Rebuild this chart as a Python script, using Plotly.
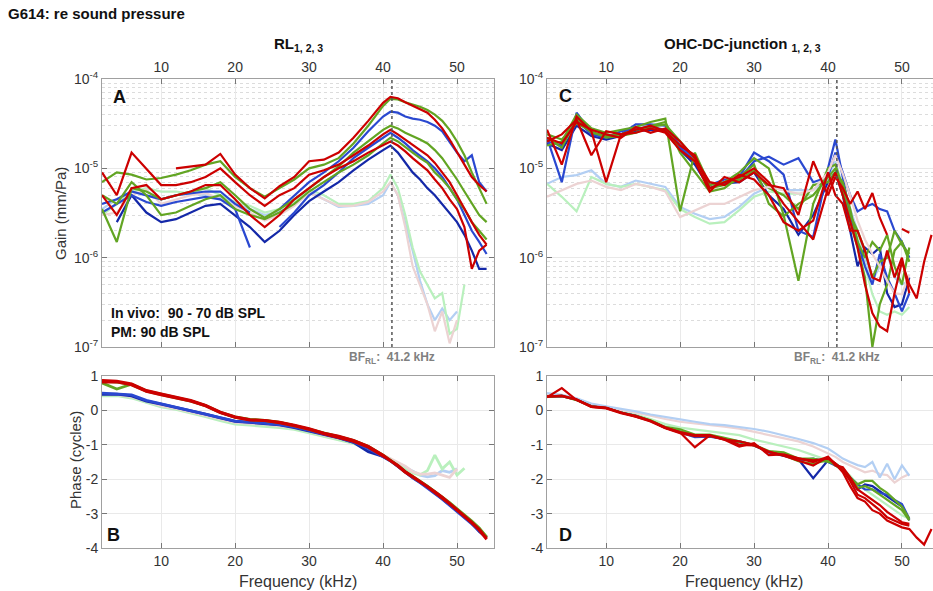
import plotly.graph_objects as go

# ---------------- data ----------------
FREQ_KHZ = [2, 4, 6, 8, 10, 12, 14, 16, 18, 20, 22, 24, 26, 28, 30, 32, 34, 36, 38, 40,
            41, 42, 43, 44, 45, 46, 47, 48, 49, 50, 51, 52, 53, 54]
X_TICKS = [10, 20, 30, 40, 50]
GAIN_TICKS = [1e-7, 1e-6, 1e-5, 1e-4]
GAIN_TICK_TEXT = ["10<sup>-7</sup>", "10<sup>-6</sup>", "10<sup>-5</sup>", "10<sup>-4</sup>"]
PHASE_TICKS = [-4, -3, -2, -1, 0, 1]
PHASE_TICK_TEXT = ["-4", "-3", "-2", "-1", "0", "1"]
BF_RL_KHZ = 41.2

# Panel A: RL gain (mm/Pa)
RL_GAIN_RED_1 = [None, None, None, None, None, 1.0e-5, 1.05e-5, 1.1e-5, 1.45e-5, 8.5e-6, 6e-6, 4.6e-6, 6.3e-6, 8e-6, 1.2e-5, 1.25e-5, 1.5e-5, 2.2e-5, 3.4e-5, 5.4e-5,
                 6.3e-5, 6.1e-5, 5.5e-5, 5.0e-5, 4.6e-5, 4.2e-5, 3.5e-5, 2.8e-5, 2.1e-5, 1.5e-5, 1.1e-5, 8e-6, 6.5e-6, 5.5e-6]
RL_GAIN_GREEN_1 = [7e-6, 9e-6, 8.5e-6, 7.5e-6, 7.8e-6, 8.5e-6, 9.5e-6, 1.1e-5, 1.2e-5, 8e-6, 6e-6, 4.8e-6, 6e-6, 7.5e-6, 1.0e-5, 1.1e-5, 1.3e-5, 1.9e-5, 3.0e-5, 5.0e-5,
                   6.0e-5, 5.9e-5, 5.5e-5, 5.2e-5, 4.9e-5, 4.5e-5, 4.0e-5, 3.4e-5, 2.7e-5, 2.0e-5, 1.4e-5, 9e-6, 6e-6, 4e-6]
RL_GAIN_BLUE_1 = [4e-6, 4.5e-6, 5.5e-6, 5e-6, 4.5e-6, 5e-6, 5.2e-6, 5.5e-6, 5.5e-6, 4e-6, 3.2e-6, None, 3.5e-6, 5e-6, 7e-6, 9e-6, 1.2e-5, 1.7e-5, 2.6e-5, 3.8e-5,
                  4.3e-5, 4.2e-5, 3.8e-5, 3.6e-5, 3.5e-5, 3.3e-5, 3.0e-5, 2.6e-5, 2.0e-5, 1.5e-5, 1.2e-5, 1.4e-5, 7e-6, 5.5e-6]
RL_GAIN_RED_2 = [9e-6, 5e-6, 1.5e-5, 1.0e-5, 6.5e-6, 6.5e-6, 7e-6, 8e-6, 1.0e-5, 7e-6, 5e-6, 3.8e-6, 5e-6, 6e-6, 8.5e-6, 9.5e-6, 1.1e-5, 1.4e-5, 1.8e-5, 2.4e-5,
                 2.7e-5, 2.4e-5, 2.1e-5, 1.8e-5, 1.6e-5, 1.4e-5, 1.15e-5, 9e-6, 7e-6, 5e-6, 3.5e-6, 2.5e-6, 1.8e-6, 1.4e-6]
RL_GAIN_GREEN_2 = [3.5e-6, 1.5e-6, 6e-6, 5.5e-6, 4.5e-6, 5e-6, 5.5e-6, 6e-6, 7e-6, 5e-6, 3.5e-6, 2.8e-6, 3.5e-6, 4.5e-6, 6e-6, 8e-6, 1.05e-5, 1.5e-5, 2.0e-5, 2.7e-5,
                   3.0e-5, 2.8e-5, 2.5e-5, 2.3e-5, 2.1e-5, 1.9e-5, 1.6e-5, 1.3e-5, 1.0e-5, 7.5e-6, 5.5e-6, 4e-6, 3e-6, 2.5e-6]
RL_GAIN_BLUE_2 = [3.2e-6, 4e-6, 5e-6, 4.2e-6, 3.8e-6, 4.2e-6, 4.5e-6, 4.8e-6, 4.5e-6, 3.5e-6, 1.3e-6, None, 2.2e-6, 3.2e-6, 5e-6, 6.5e-6, 9e-6, 1.3e-5, 1.7e-5, 2.2e-5,
                  2.5e-5, 2.2e-5, 1.9e-5, 1.6e-5, 1.4e-5, 1.2e-5, 1.0e-5, 8e-6, 6e-6, 4.5e-6, 3e-6, 2e-6, 1.5e-6, 1.1e-6]
RL_GAIN_RED_3 = [5e-6, 3e-6, 6e-6, 6.5e-6, 4.5e-6, 5e-6, 5.5e-6, 6.5e-6, 6.5e-6, 4.5e-6, 3e-6, 2.2e-6, 3e-6, 4.5e-6, 6e-6, 8e-6, 1.0e-5, 1.2e-5, 1.5e-5, 1.8e-5,
                 2.0e-5, 1.8e-5, 1.55e-5, 1.3e-5, 1.1e-5, 9.5e-6, 7.5e-6, 6e-6, 4.5e-6, 3.5e-6, 2.2e-6, 7.5e-7, 1.2e-6, 1.4e-6]
RL_GAIN_GREEN_3 = [5e-6, 4e-6, 7e-6, 5e-6, 3e-6, 3.2e-6, 3.8e-6, 4.5e-6, 5e-6, 3.5e-6, 3e-6, 2.7e-6, 3.2e-6, 4e-6, 5.5e-6, 7e-6, 9e-6, 1.1e-5, 1.4e-5, 1.9e-5,
                   2.2e-5, 2.0e-5, 1.75e-5, 1.5e-5, 1.3e-5, 1.15e-5, 9e-6, 7.5e-6, 6e-6, 4.5e-6, 3.5e-6, 2.5e-6, 2e-6, 1.6e-6]
RL_GAIN_BLUE_3 = [None, 2.5e-6, 5e-6, 3.2e-6, 2.5e-6, 2.7e-6, 3.2e-6, 3.8e-6, 4e-6, 3e-6, 2.2e-6, 1.5e-6, 2e-6, 3e-6, 4.3e-6, 5.5e-6, 7e-6, 9.5e-6, 1.25e-5, 1.6e-5,
                  1.8e-5, 1.5e-5, 1.15e-5, 9e-6, 7.5e-6, 6e-6, 5e-6, 4e-6, 3.2e-6, 2.5e-6, 1.8e-6, 1.2e-6, 7.5e-7, 7.5e-7]
RL_GAIN_PM_BLUE = [3.5e-6, 4.5e-6, 5.5e-6, 5e-6, 4.5e-6, 5e-6, 5.2e-6, 5e-6, 4.8e-6, 4e-6, 3.5e-6, 3e-6, 3.3e-6, 4e-6, 5.5e-6, 4.5e-6, 3.7e-6, 3.8e-6, 4e-6, 5e-6,
                   7e-6, 5e-6, 2.5e-6, 1.2e-6, 5.5e-7, 3e-7, 2e-7, 2.7e-7, 2e-7, 2.5e-7, None, None, None, None]
RL_GAIN_PM_GREEN = [3e-6, 4e-6, 5.5e-6, 6e-6, 5.5e-6, 5.5e-6, 5.2e-6, 6e-6, 5e-6, 4.2e-6, 3.8e-6, 3.2e-6, 3.5e-6, 4.2e-6, 5.8e-6, 5e-6, 4e-6, 4e-6, 4.3e-6, 6e-6,
                    8.5e-6, 6e-6, 3e-6, 1.3e-6, 7e-7, 5e-7, 3.5e-7, 4e-7, 1.4e-7, 1.6e-7, 5e-7, None, None, None]
RL_GAIN_PM_PINK = [3e-6, 3.2e-6, 5e-6, 5.8e-6, 4e-6, 4.5e-6, 5e-6, 5.3e-6, 4.5e-6, 3.8e-6, 3.2e-6, 2.6e-6, 3e-6, 3.8e-6, 5.3e-6, 4.5e-6, 3.8e-6, 3.8e-6, 4.2e-6, 5.5e-6,
                   7e-6, 5e-6, 2.2e-6, 8e-7, 5e-7, 3e-7, 1.5e-7, 2.5e-7, 1.1e-7, 2e-7, None, None, None, None]

# Panel B: RL phase (cycles)
RL_PHASE_RED_1 = [0.87, 0.85, 0.77, 0.58, 0.48, 0.39, 0.29, 0.15, -0.05, -0.19, -0.27, -0.29, -0.34, -0.43, -0.53, -0.66, -0.75, -0.87, -1.04, -1.30,
                  -1.45, -1.62, -1.80, -1.95, -2.08, -2.22, -2.38, -2.55, -2.72, -2.90, -3.08, -3.27, -3.48, -3.75]
RL_PHASE_RED_2 = [0.82, 0.83, 0.74, 0.55, 0.45, 0.37, 0.27, 0.13, -0.07, -0.2, -0.28, -0.3, -0.36, -0.45, -0.55, -0.68, -0.78, -0.9, -1.07, -1.32,
                  -1.46, -1.6, -1.78, -1.92, -2.06, -2.2, -2.36, -2.52, -2.7, -2.88, -3.06, -3.25, -3.45, -3.72]
RL_PHASE_GREEN_1 = [0.8, 0.62, 0.76, 0.56, 0.46, 0.37, 0.27, 0.14, -0.06, -0.2, -0.27, -0.3, -0.35, -0.44, -0.54, -0.67, -0.76, -0.88, -1.05, -1.3,
                    -1.44, -1.6, -1.78, -1.93, -2.06, -2.2, -2.35, -2.52, -2.68, -2.86, -3.03, -3.22, -3.42, -3.68]
RL_PHASE_GREEN_2 = [0.85, 0.82, 0.75, 0.57, 0.47, 0.38, 0.28, 0.14, -0.06, -0.19, -0.26, -0.29, -0.35, -0.44, -0.54, -0.66, -0.76, -0.88, -1.05, -1.31,
                    -1.45, -1.61, -1.79, -1.94, -2.07, -2.21, -2.37, -2.53, -2.7, -2.88, -3.05, -3.24, -3.44, -3.7]
RL_PHASE_BLUE_1 = [0.5, 0.48, 0.45, 0.29, 0.19, 0.1, 0.0, -0.1, -0.21, -0.31, -0.34, -0.37, -0.41, -0.48, -0.58, -0.70, -0.79, -0.92, -1.11, -1.35,
                   -1.47, -1.63, -1.8, -1.96, -2.1, -2.25, -2.42, -2.58, -2.76, -2.93, -3.1, -3.3, -3.5, -3.68]
RL_PHASE_BLUE_2 = [0.47, 0.47, 0.42, 0.27, 0.18, 0.09, -0.01, -0.11, -0.22, -0.32, -0.35, -0.38, -0.42, -0.5, -0.6, -0.72, -0.8, -0.93, -1.2, -1.34,
                   -1.46, -1.62, -1.79, -1.95, -2.09, -2.23, -2.4, -2.56, -2.74, -2.91, -3.08, -3.28, -3.52, -3.7]
RL_PHASE_PM_BLUE = [0.45, 0.45, 0.38, 0.25, 0.12, 0.05, -0.05, -0.15, -0.27, -0.37, -0.4, -0.43, -0.47, -0.53, -0.62, -0.74, -0.83, -0.94, -1.1, -1.32,
                    -1.42, -1.55, -1.65, -1.75, -1.88, -1.93, -1.9, -1.75, -1.8, -1.7, None, None, None, None]
RL_PHASE_PM_GREEN = [0.42, 0.43, 0.36, 0.22, 0.1, 0.03, -0.07, -0.18, -0.3, -0.4, -0.43, -0.46, -0.5, -0.55, -0.65, -0.76, -0.85, -0.96, -1.12, -1.33,
                     -1.43, -1.56, -1.68, -1.82, -1.88, -1.75, -1.3, -1.7, -1.5, -1.88, -1.68, None, None, None]
RL_PHASE_PM_PINK = [0.48, 0.46, 0.4, 0.27, 0.14, 0.06, -0.04, -0.14, -0.25, -0.35, -0.38, -0.4, -0.45, -0.5, -0.6, -0.72, -0.81, -0.92, -1.08, -1.3,
                    -1.4, -1.5, -1.62, -1.78, -1.85, -1.85, -1.82, -1.88, -1.95, -1.7, None, None, None, None]

# Panel C: OHC-DC-junction gain (mm/Pa)
OHC_GAIN_RED_1 = [2.7e-5, 1.1e-5, 3.8e-5, 2.6e-5, 7e-6, 2.4e-5, 2.7e-5, 3.0e-5, 2.6e-5, 1.8e-5, 1.4e-5, 6e-6, 7e-6, 8e-6, 1.0e-5, 7e-6, 4e-6, 2.5e-6, 1.6e-6, 6e-6,
                  9e-6, 5e-6, 2.5e-6, 1.3e-6, 5e-7, 2.4e-7, 1.7e-7, 1.5e-7, 4e-7, 9e-7, 5e-7, 3.5e-7, 9e-7, 1.8e-6]
OHC_GAIN_RED_2 = [2e-5, 2.4e-5, 3.5e-5, 1.4e-5, 2.6e-5, 2.4e-5, 2.5e-5, 2.8e-5, 2.5e-5, 1.6e-5, 1.2e-5, 5.5e-6, 8e-6, 7e-6, 9e-6, 6.5e-6, 6e-6, 3e-6, 1.2e-5, 5e-6,
                  8e-6, 6e-6, 4e-6, 5.5e-6, 3.5e-6, 5.3e-6, 2.8e-6, 1.8e-6, None, 2.1e-6, 1.9e-6, None, None, None]
OHC_GAIN_RED_3 = [2.2e-5, 1.9e-5, 3.3e-5, 2.7e-5, 2.4e-5, 2.2e-5, 2.9e-5, 2.5e-5, 2.8e-5, 2.0e-5, 1.3e-5, 7e-6, 6.5e-6, 8.5e-6, 7.5e-6, 5e-6, 2.5e-6, 2e-6, 2.6e-6, 9e-6,
                  5e-6, 4e-6, 2e-6, 2e-6, 1.2e-6, 6e-7, 5.5e-7, 1.2e-6, 6e-7, 1.0e-6, 4e-7, None, None, None]
OHC_GAIN_GREEN_1 = [1.8e-5, 2.0e-5, 4.0e-5, 2.8e-5, 2.5e-5, 2.7e-5, 2.9e-5, 3.3e-5, 3.6e-5, 3.3e-6, 1.5e-5, 6.5e-6, 7e-6, 9e-6, 1.3e-5, 1.0e-5, 3e-6, 5.5e-7, 4e-6, 1.0e-5,
                    1.1e-5, 6e-6, 2.5e-6, 1.3e-6, 6e-7, 1.0e-7, 3e-7, 5e-7, 1.2e-6, 1.5e-6, 9e-7, None, None, None]
OHC_GAIN_GREEN_2 = [2.2e-5, 1.7e-5, 3.6e-5, 2.5e-5, 2.3e-5, 2.4e-5, 2.7e-5, 3.0e-5, 3.3e-5, 1.5e-5, 9e-6, 5.5e-6, 6e-6, 8e-6, 1.1e-5, 4e-6, 2.9e-6, 4e-6, 5e-6, 8e-6,
                    1.0e-5, 5e-6, 3e-6, 2e-6, 1.2e-6, 6e-7, 9e-7, 1.0e-6, 2e-6, 1.4e-6, 1.1e-6, None, None, None]
OHC_GAIN_GREEN_3 = [2.4e-5, 2.1e-5, 3.2e-5, 2.6e-5, 2.2e-5, 2.3e-5, 2.5e-5, 2.9e-5, 3.1e-5, 2.0e-5, 1.3e-5, 6e-6, 6.5e-6, 7.5e-6, 9.5e-6, 6e-6, 5e-6, 3.5e-6, 6.5e-6, 7e-6,
                    9e-6, 7e-6, 3.5e-6, 1.5e-6, 1.0e-6, 1.5e-6, 1.2e-6, 1.8e-6, 8e-7, 5e-7, 1.3e-6, None, None, None]
OHC_GAIN_BLUE_1 = [2.2e-5, 7e-6, 4.2e-5, 2.5e-5, 2.3e-5, 2.4e-5, 3.1e-5, 3.1e-5, 3.0e-5, 1.8e-5, 1.3e-5, 6e-6, 7e-6, 8e-6, 1.5e-5, 1.2e-5, 8.5e-6, 2e-6, 1.7e-6, 1.0e-5,
                   2.1e-5, 8e-6, 3e-6, 1.5e-6, 8e-7, 5e-7, 1.1e-6, 6e-7, 4e-7, 2.5e-7, 4e-7, None, None, None]
OHC_GAIN_BLUE_2 = [2e-5, 1.8e-5, 3.5e-5, 2.4e-5, 2.2e-5, 2.6e-5, 2.8e-5, 2.9e-5, 2.7e-5, 1.7e-5, 1.2e-5, 6.5e-6, 7.5e-6, 7.5e-6, 1.2e-5, 1.35e-5, 1.1e-5, 1.3e-5, 7e-6, 8e-6,
                   1.5e-5, 9e-6, 5e-6, 3.3e-6, 3.7e-6, 4e-6, 3.5e-6, 3.3e-6, 2e-6, 1.5e-6, 1.0e-6, None, None, None]
OHC_GAIN_BLUE_3 = [1.9e-5, 1.6e-5, 3.0e-5, 2.3e-5, 2.1e-5, 2.3e-5, 2.6e-5, 2.7e-5, 2.6e-5, 1.6e-5, 1.1e-5, 6e-6, 6.8e-6, 7e-6, 9e-6, 5e-6, 3.5e-6, 1.8e-6, 3e-6, 7e-6,
                   9e-6, 5e-6, 2e-6, 8e-7, 1.3e-6, 1.1e-6, 1.3e-6, 4e-7, 2.8e-7, 3e-7, 6e-7, None, None, None]
OHC_GAIN_PM_BLUE = [6.7e-6, 8e-6, 8.4e-6, 9.5e-6, 6.7e-6, 6.2e-6, 7.3e-6, 6.7e-6, 6.2e-6, 3.7e-6, 3.1e-6, 2.7e-6, 2.85e-6, 3.7e-6, 5.2e-6, 6.2e-6, 5.7e-6, 5.7e-6, 5.7e-6, 8e-6,
                    1.2e-5, 6.2e-6, 3.5e-6, 2e-6, 1.0e-6, 5.5e-7, 8e-7, 1.1e-6, 6e-7, 5e-7, 5.5e-7, None, None, None]
OHC_GAIN_PM_GREEN = [6.7e-6, 4.8e-6, 3.3e-6, 8e-6, 6.7e-6, 6.2e-6, 6.7e-6, 6.2e-6, 5.7e-6, 3.5e-6, 2.85e-6, 2.4e-6, 2.5e-6, 3.4e-6, 4.8e-6, 5.5e-6, 5.2e-6, 5.2e-6, 5e-6, 7.3e-6,
                     1.0e-5, 5.7e-6, 3e-6, 1.7e-6, 8e-7, 3.9e-7, 2.5e-7, 2.3e-7, 2.5e-7, 2.3e-7, 2.8e-7, None, None, None]
OHC_GAIN_PM_PINK = [4.8e-6, 5.7e-6, 6.7e-6, 7.3e-6, 6.2e-6, 5.7e-6, 6.7e-6, 6.2e-6, 5.5e-6, 2.85e-6, 3.4e-6, 4e-6, 4e-6, 4.8e-6, 5.7e-6, 6.2e-6, 5.7e-6, 5.2e-6, 5.7e-6, 9e-6,
                    1.4e-5, 8.7e-6, 5e-6, 2.6e-6, 1.6e-6, 1.1e-6, 8e-7, 5.5e-7, 4e-7, 3.9e-7, 6.5e-7, None, None, None]

# Panel D: OHC-DC-junction phase (cycles)
OHC_PHASE_RED_1 = [0.41, 0.41, 0.31, 0.12, 0.08, -0.07, -0.16, -0.3, -0.5, -0.64, -1.07, -0.73, -0.83, -1.0, -1.02, -1.21, -1.3, -1.4, -1.45, -1.4,
                   -1.54, -1.73, -2.05, -2.45, -2.55, -2.73, -2.9, -3.11, -3.2, -3.3, -3.35, None, None, None]
OHC_PHASE_RED_2 = [0.38, 0.65, 0.3, 0.1, 0.06, -0.08, -0.18, -0.32, -0.52, -0.66, -0.75, -0.74, -0.85, -1.05, -0.95, -1.3, -1.28, -1.38, -1.5, -1.35,
                   -1.6, -1.65, -1.95, -2.3, -2.45, -2.6, -2.75, -2.95, -3.1, -3.25, -3.3, None, None, None]
OHC_PHASE_RED_3 = [0.4, 0.43, 0.32, 0.1, 0.07, -0.06, -0.17, -0.31, -0.5, -0.63, -0.72, -0.72, -0.85, -0.9, -1.0, -1.2, -1.32, -1.45, -1.6, -1.35,
                   -1.55, -1.8, -2.2, -2.55, -2.65, -2.9, -3.0, -3.2, -3.3, -3.4, -3.45, -3.7, -3.9, -3.45]
OHC_PHASE_GREEN_1 = [0.4, 0.42, 0.31, 0.12, 0.07, -0.06, -0.16, -0.29, -0.48, -0.55, -0.7, -0.7, -0.8, -0.9, -1.0, -1.18, -1.22, -1.4, -1.4, -1.5,
                     -1.55, -1.7, -1.95, -2.15, -2.05, -2.05, -2.25, -2.4, -2.6, -2.8, -3.15, None, None, None]
OHC_PHASE_GREEN_2 = [0.4, 0.42, 0.3, 0.11, 0.07, -0.07, -0.17, -0.3, -0.5, -0.62, -0.73, -0.74, -0.82, -0.92, -1.02, -1.2, -1.3, -1.48, -1.55, -1.45,
                     -1.6, -1.75, -2.0, -2.25, -2.2, -2.3, -2.45, -2.6, -2.75, -2.9, -3.2, None, None, None]
OHC_PHASE_BLUE_1 = [0.4, 0.42, 0.31, 0.12, 0.07, -0.06, -0.16, -0.3, -0.5, -0.63, -0.78, -0.76, -0.82, -0.9, -1.01, -1.2, -1.3, -1.45, -1.4, -1.5,
                    -1.6, -1.72, -1.95, -2.15, -2.3, -2.3, -2.4, -2.45, -2.6, -2.72, -3.15, None, None, None]
OHC_PHASE_BLUE_2 = [0.4, 0.41, 0.31, 0.12, 0.07, -0.06, -0.16, -0.3, -0.5, -0.63, -0.74, -0.74, -0.83, -0.92, -1.02, -1.22, -1.32, -1.42, -1.97, -1.45,
                    -1.55, -1.7, -2.0, -2.3, -2.15, -2.2, -2.35, -2.5, -2.65, -2.8, -3.2, None, None, None]
OHC_PHASE_PM_BLUE = [0.5, 0.45, 0.35, 0.2, 0.12, 0.05, -0.03, -0.12, -0.2, -0.26, -0.33, -0.4, -0.43, -0.48, -0.54, -0.62, -0.72, -0.83, -0.95, -1.11,
                     -1.25, -1.4, -1.5, -1.59, -1.65, -1.5, -1.95, -1.55, -2.0, -1.6, -1.9, None, None, None]
OHC_PHASE_PM_PINK = [0.45, 0.43, 0.33, 0.18, 0.1, 0.02, -0.06, -0.15, -0.25, -0.33, -0.38, -0.42, -0.47, -0.53, -0.62, -0.7, -0.8, -0.9, -1.05, -1.25,
                     -1.35, -1.5, -1.6, -1.72, -1.8, -1.75, -1.85, -1.88, -2.1, -1.95, -1.85, None, None, None]
OHC_PHASE_PM_GREEN = [0.42, 0.42, 0.32, 0.15, 0.08, -0.02, -0.12, -0.25, -0.4, -0.5, -0.55, -0.6, -0.65, -0.72, -0.85, -0.95, -1.05, -1.15, -1.3, -1.45,
                      -1.55, -1.7, -1.9, -2.15, -2.3, -2.45, -2.6, -2.75, -2.9, -3.05, -3.15, None, None, None]

# ---------------- styling ----------------
RED = "#cc0000"
GREEN = "#62a523"
BLUE = "#2a48d0"
BLUE_DARK = "#1428a8"
PM_BLUE = "#b3cff3"
PM_GREEN = "#b9f0bd"
PM_PINK = "#ecd3d3"
FONT = "Liberation Sans, Arial, Helvetica, sans-serif"
W, H = 933, 591


def px(x):
    return x / W


def py(y):
    return 1 - y / H


fig = go.Figure()


def add(y, color, width, xa, ya):
    assert len(y) == len(FREQ_KHZ)
    fig.add_trace(go.Scatter(x=FREQ_KHZ, y=y, mode="lines", line=dict(color=color, width=width),
                             xaxis=xa, yaxis=ya, showlegend=False, hoverinfo="skip"))


# Panel A
for arr, col in [(RL_GAIN_PM_BLUE, PM_BLUE), (RL_GAIN_PM_GREEN, PM_GREEN), (RL_GAIN_PM_PINK, PM_PINK),
                 (RL_GAIN_BLUE_3, BLUE_DARK), (RL_GAIN_BLUE_2, BLUE), (RL_GAIN_BLUE_1, BLUE),
                 (RL_GAIN_GREEN_3, GREEN), (RL_GAIN_GREEN_2, GREEN), (RL_GAIN_GREEN_1, GREEN),
                 (RL_GAIN_RED_3, RED), (RL_GAIN_RED_2, RED), (RL_GAIN_RED_1, RED)]:
    add(arr, col, 2.2, "x", "y")
# Panel B
for arr, col in [(RL_PHASE_PM_BLUE, PM_BLUE), (RL_PHASE_PM_GREEN, PM_GREEN), (RL_PHASE_PM_PINK, PM_PINK),
                 (RL_PHASE_BLUE_2, BLUE_DARK), (RL_PHASE_BLUE_1, BLUE),
                 (RL_PHASE_GREEN_2, GREEN), (RL_PHASE_GREEN_1, GREEN),
                 (RL_PHASE_RED_2, RED), (RL_PHASE_RED_1, RED)]:
    add(arr, col, 2.8, "x2", "y2")
# Panel C
for arr, col in [(OHC_GAIN_PM_BLUE, PM_BLUE), (OHC_GAIN_PM_GREEN, PM_GREEN),
                 (OHC_GAIN_BLUE_3, BLUE_DARK), (OHC_GAIN_BLUE_2, BLUE), (OHC_GAIN_BLUE_1, BLUE),
                 (OHC_GAIN_GREEN_3, GREEN), (OHC_GAIN_GREEN_2, GREEN), (OHC_GAIN_GREEN_1, GREEN),
                 (OHC_GAIN_PM_PINK, PM_PINK),
                 (OHC_GAIN_RED_3, RED), (OHC_GAIN_RED_2, RED), (OHC_GAIN_RED_1, RED)]:
    add(arr, col, 2.2, "x3", "y3")
# Panel D
for arr, col in [(OHC_PHASE_PM_GREEN, PM_GREEN), (OHC_PHASE_PM_PINK, PM_PINK), (OHC_PHASE_PM_BLUE, PM_BLUE),
                 (OHC_PHASE_BLUE_2, BLUE_DARK), (OHC_PHASE_BLUE_1, BLUE),
                 (OHC_PHASE_GREEN_2, GREEN), (OHC_PHASE_GREEN_1, GREEN),
                 (OHC_PHASE_RED_3, RED), (OHC_PHASE_RED_2, RED), (OHC_PHASE_RED_1, RED)]:
    add(arr, col, 2.2, "x4", "y4")

LEFT_DOM = [px(102), px(494)]
RIGHT_DOM = [px(547), 1.0]
TOP_DOM = [py(347), py(79)]
BOT_DOM = [py(548), py(376)]

axis_common = dict(ticks="inside", ticklen=5, tickcolor="#777", showline=True, linecolor="#a0a0a0",
                   linewidth=1, showgrid=True, gridcolor="#e9e9e9", gridwidth=1, zeroline=False,
                   automargin=False, tickfont=dict(family=FONT, size=14, color="#333"))


def xax(dom, rng, anchor, side, mirror="ticks"):
    d = dict(axis_common)
    d.update(domain=dom, range=rng, anchor=anchor, side=side, tickmode="array", tickvals=X_TICKS,
             mirror=mirror)
    return d


def gain_ax(dom, anchor, mirror):
    d = dict(axis_common)
    d.update(domain=dom, anchor=anchor, type="log", range=[-7, -4], tickmode="array",
             tickvals=GAIN_TICKS, ticktext=GAIN_TICK_TEXT, mirror=mirror,
             minor=dict(dtick="D1", showgrid=True, griddash="dot", gridcolor="#dcdcdc", ticks=""))
    return d


def phase_ax(dom, anchor, mirror):
    d = dict(axis_common)
    d.update(domain=dom, anchor=anchor, range=[-4, 1], tickmode="array", tickvals=PHASE_TICKS,
             ticktext=PHASE_TICK_TEXT, mirror=mirror)
    return d


fig.update_layout(
    width=W, height=H, margin=dict(l=0, r=0, t=0, b=0, autoexpand=False),
    paper_bgcolor="white", plot_bgcolor="white",
    font=dict(family=FONT, color="#222"),
    xaxis=xax(LEFT_DOM, [2, 55], "y", "top"),
    yaxis=gain_ax(TOP_DOM, "x", "ticks"),
    xaxis2=xax(LEFT_DOM, [2, 55], "y2", "bottom"),
    yaxis2=phase_ax(BOT_DOM, "x2", "ticks"),
    xaxis3=xax(RIGHT_DOM, [2, 54.2], "y3", "top"),
    yaxis3=gain_ax(TOP_DOM, "x3", False),
    xaxis4=xax(RIGHT_DOM, [2, 54.2], "y4", "bottom"),
    yaxis4=phase_ax(BOT_DOM, "x4", False),
)

for xr in ["x", "x3"]:
    fig.add_shape(type="line", xref=xr, yref=("y" if xr == "x" else "y3") + " domain",
                  x0=BF_RL_KHZ, x1=BF_RL_KHZ, y0=0, y1=1,
                  line=dict(color="#555", width=1.5, dash="dot"))

ann = []


def text(t, x, y, size, xanchor="center", yanchor="middle", color="#111", xref="paper", angle=0):
    ann.append(dict(text=t, x=x, y=y, xref=xref, yref="paper", xanchor=xanchor, yanchor=yanchor,
                    showarrow=False, textangle=angle, font=dict(family=FONT, size=size, color=color)))


text("<b>G614: re sound pressure</b>", px(6), py(14), 15, xanchor="left")
text("<b>RL<sub>1, 2, 3</sub></b>", px(298), py(44), 15)
text("<b>OHC-DC-junction <sub>1, 2, 3</sub></b>", px(742), py(44), 15)
text("<b>A</b>", px(119), py(97), 18)
text("<b>B</b>", px(113), py(535), 18)
text("<b>C</b>", px(565), py(96), 18)
text("<b>D</b>", px(565), py(535), 18)
text("<b>In vivo:\u00a0 90 - 70 dB SPL</b>", px(109), py(313), 14, xanchor="left")
text("<b>PM: 90 dB SPL</b>", px(109), py(332), 14, xanchor="left")
text("<b>BF<sub>RL</sub>:\u00a0 41.2 kHz</b>", BF_RL_KHZ, py(358), 12, color="#808080", xref="x")
text("<b>BF<sub>RL</sub>:\u00a0 41.2 kHz</b>", BF_RL_KHZ, py(358), 12, color="#808080", xref="x3")
text("Gain (mm/Pa)", px(60), py(213), 15, angle=-90, color="#333")
text("Phase (cycles)", px(75), py(460), 15, angle=-90, color="#333")
text("Frequency (kHz)", px(298), py(581), 16, color="#333")
text("Frequency (kHz)", px(744), py(581), 16, color="#333")
fig.update_layout(annotations=ann)

# remove the browser's default page margin so the figure sits at the window origin
fig.write_html("out.html", config={"displayModeBar": False},
               post_script="document.body.style.margin='0';document.body.style.overflow='hidden';")
